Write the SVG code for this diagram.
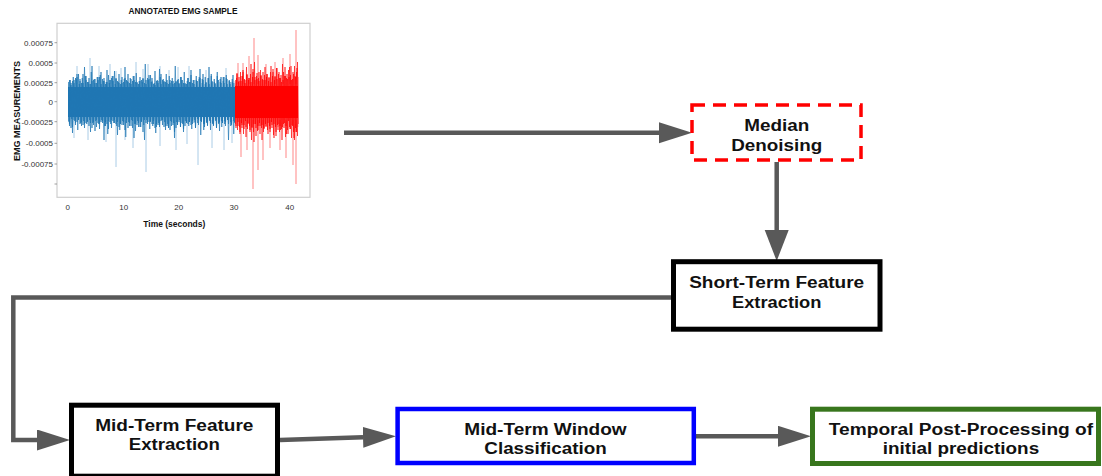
<svg xmlns="http://www.w3.org/2000/svg" xmlns:xlink="http://www.w3.org/1999/xlink" width="1102" height="476" viewBox="0 0 1102 476">
  <style>
    .lbl { font-family: "Liberation Sans", Arial, sans-serif; font-weight: bold; font-size: 16px; fill: #111; text-anchor: middle; }
    .tick { font-family: "Liberation Sans", Arial, sans-serif; font-size: 8px; fill: #333; }
    .axis { font-family: "Liberation Sans", Arial, sans-serif; font-weight: bold; fill: #111; text-anchor: middle; }
    .conn { fill: none; stroke: #595959; stroke-width: 4.5; stroke-linejoin: miter; }
    .box { fill: #fff; }
  </style>
  <defs>
    <marker id="head" markerUnits="userSpaceOnUse" markerWidth="34" markerHeight="22" refX="0" refY="10.5" orient="auto">
      <path d="M0,0 L33,10.5 L0,21 Z" fill="#595959"/>
    </marker>
    <marker id="headV" markerUnits="userSpaceOnUse" markerWidth="32" markerHeight="25" refX="0" refY="12" orient="auto">
      <path d="M0,0 L31,12 L0,24 Z" fill="#595959"/>
    </marker>
    <clipPath id="clipBlue"><rect x="68" y="20" width="167" height="180"/></clipPath>
    <clipPath id="clipRed"><rect x="235" y="20" width="63.5" height="180"/></clipPath>
    <!-- raw trace of the resting segment -->
    <polyline id="sigBlue" fill="none" stroke="#1f77b4" stroke-width="0.8" stroke-linejoin="round" points="68,82 69.5,124 71,85 72.5,127 74,83 75.5,125 77,74 78.5,120 80,81 81.5,126 83,83 84.5,128 86,80 87.5,122 89,84 90.5,132 92,81 93.5,125 95,83 96.5,127 98,80 99.5,129 101,84 102.5,123 104,78 105.5,122 107,70 108.5,121 110,80 111.5,128 113,81 114.5,120 116,78 117.5,122 119,74 120.5,124 122,83 123.5,125 125,67 126.5,123 128,82 129.5,126 131,84 132.5,128 134,80 135.5,131 137,83 138.5,123 140,77 141.5,122 143,79 144.5,140 146,84 147.5,124 149,75 150.5,122 152,78 153.5,121 155,71 156.5,124 158,81 159.5,127 161,84 162.5,125 164,82 165.5,130 167,80 168.5,128 170,83 171.5,126 173,81 174.5,138 176,82 177.5,125 179,84 180.5,127 182,80 183.5,132 185,83 186.5,123 188,78 189.5,122 191,75 192.5,124 194,84 195.5,128 197,81 198.5,125 200,69 201.5,121 203,80 204.5,127 206,82 207.5,126 209,84 210.5,130 212,81 213.5,125 215,83 216.5,128 218,80 219.5,122 221,77 222.5,123 224,83 225.5,126 227,84 228.5,124 230,82 231.5,125 233,83 234.5,123"/>
    <!-- raw trace of the annotated segment -->
    <polyline id="sigRed" fill="none" stroke="#ff0000" stroke-width="0.7" stroke-linejoin="round" points="235,80 236,126 237,74 238,122 239,77 240,132 241,81 242,128 243,70 244,125 245,83 246,137 247,75 248,124 249,78 250,130 251,64 252,127 253,72 254,142 255,80 256,128 257,73 258,126 259,81 260,134 261,76 262,125 263,72 264,129 265,80 266,127 267,74 268,123 269,78 270,132 271,82 272,128 273,69 274,124 275,77 276,136 277,79 278,130 279,72 280,126 281,75 282,140 283,80 284,128 285,67 286,126 287,74 288,134 289,77 290,129 291,66 292,125 293,72 294,138 295,76 296,132 297,68 298,127"/>
  </defs>
  <rect width="1102" height="476" fill="#fff"/>

  <!-- EMG sample plot -->
  <g id="emg-chart">
    <text class="axis" x="183" y="13.5" font-size="8.3">ANNOTATED EMG SAMPLE</text>
    <rect x="57" y="23.3" width="253" height="174" fill="#fff" stroke="#cfcfcf" stroke-width="1.2"/>
    <!-- y axis ticks -->
    <g class="tick" text-anchor="end">
      <text x="53" y="45.5">0.00075</text>
      <text x="53" y="65.8">0.0005</text>
      <text x="53" y="85.5">0.00025</text>
      <text x="53" y="104.5">0</text>
      <text x="53" y="124.5">-0.00025</text>
      <text x="53" y="146">-0.0005</text>
      <text x="53" y="166.8">-0.00075</text>
    </g>
    <path d="M54.5,42.7 H57 M54.5,63 H57 M54.5,82.7 H57 M54.5,101.7 H57 M54.5,121.7 H57 M54.5,143.3 H57 M54.5,164 H57 M54.5,184 H57" stroke="#888" stroke-width="0.8"/>
    <!-- x axis ticks -->
    <g class="tick" text-anchor="middle">
      <text x="67.7" y="209.5">0</text>
      <text x="123.7" y="209.5">10</text>
      <text x="178.7" y="209.5">20</text>
      <text x="234" y="209.5">30</text>
      <text x="289.7" y="209.5">40</text>
    </g>
    <text class="axis" x="174.3" y="227" font-size="9.5" textLength="62" lengthAdjust="spacingAndGlyphs">Time (seconds)</text>
    <text class="axis" transform="translate(19.5,111) rotate(-90)" font-size="9" textLength="100" lengthAdjust="spacingAndGlyphs">EMG MEASUREMENTS</text>

    <!-- resting segment (blue) -->
    <rect x="68" y="87" width="167" height="30" fill="#1f77b4"/>
    <path fill="none" stroke="#6fa8d6" stroke-width="0.9" opacity="0.65"
      d="M90,84 V58 M77,84 V66 M99,84 V66 M110,84 V64 M121,84 V68 M136,84 V62 M148,84 V64 M160,84 V66 M178,84 V67 M189,84 V66 M206,84 V70 M226,84 V68 M169,84 V70 M143,84 V69 M116,84 V71
         M74,120 V138 M88,120 V140 M106,120 V142 M116,120 V167 M133,120 V148 M146,120 V172 M160,120 V146 M176,120 V150 M198,120 V165 M212,120 V148 M224,120 V150 M232,120 V143 M125,120 V140 M187,120 V144"/>
    <g clip-path="url(#clipBlue)" stroke-opacity="0.85">
      <use xlink:href="#sigBlue"/>
      <use xlink:href="#sigBlue" transform="translate(0.75,204) scale(1,-1)"/>
      <use xlink:href="#sigBlue" transform="translate(-40.5,0)"/>
      <use xlink:href="#sigBlue" transform="translate(126.75,204) scale(1,-1)"/>
      <use xlink:href="#sigBlue" transform="translate(-82.5,204) scale(1,-1)"/>
      <use xlink:href="#sigBlue" transform="translate(84,0)"/>
    </g>

    <!-- annotated segment (red) -->
    <rect x="235" y="86" width="63" height="32" fill="#ff0000"/>
    <path fill="none" stroke="#ff4040" stroke-width="0.9" opacity="0.7"
      d="M254,84 V38 M296,84 V30 M243,84 V63 M258,84 V55 M283,84 V58 M290,84 V54 M238,84 V63 M275,84 V62 M249,84 V56 M266,84 V64
         M253,120 V189 M296,120 V184 M241,120 V157 M258,120 V170 M263,120 V160 M280,120 V150 M286,120 V158 M293,120 V165 M270,120 V148 M247,120 V150"/>
    <g clip-path="url(#clipRed)" stroke-opacity="0.8">
      <use xlink:href="#sigRed"/>
      <use xlink:href="#sigRed" transform="translate(0.5,204) scale(1,-1)"/>
      <use xlink:href="#sigRed" transform="translate(-20,0)"/>
      <use xlink:href="#sigRed" transform="translate(43.5,204) scale(1,-1)"/>
    </g>
  </g>

  <!-- connectors -->
  <g id="connectors">
    <path class="conn" d="M344,132.7 H659" marker-end="url(#head)"/>
    <path class="conn" d="M776.7,162 V230" marker-end="url(#headV)"/>
    <path class="conn" d="M671,297.5 H13.3 V440 H37" marker-end="url(#head)"/>
    <path class="conn" d="M280,440 L363,437.3" marker-end="url(#head)"/>
    <path class="conn" d="M696,436.3 H778" marker-end="url(#head)"/>
  </g>

  <g id="median-denoising">
    <rect class="box" x="692" y="105" width="169" height="55" stroke="#ff0000" stroke-width="3.5" stroke-dasharray="13 8"/>
    <text class="lbl" x="776.7" y="130.7" textLength="65" lengthAdjust="spacingAndGlyphs">Median</text>
    <text class="lbl" x="776.7" y="151" textLength="91" lengthAdjust="spacingAndGlyphs">Denoising</text>
  </g>

  <g id="short-term-features">
    <rect class="box" x="673.5" y="261.7" width="206.5" height="67.5" stroke="#000" stroke-width="5"/>
    <text class="lbl" x="776.7" y="288.3" textLength="175" lengthAdjust="spacingAndGlyphs">Short-Term Feature</text>
    <text class="lbl" x="776.7" y="307.5" textLength="89.5" lengthAdjust="spacingAndGlyphs">Extraction</text>
  </g>

  <g id="mid-term-features">
    <rect class="box" x="71.5" y="405.2" width="206" height="71" stroke="#000" stroke-width="5"/>
    <text class="lbl" x="174.3" y="430.5" textLength="158.3" lengthAdjust="spacingAndGlyphs">Mid-Term Feature</text>
    <text class="lbl" x="174.3" y="450" textLength="91" lengthAdjust="spacingAndGlyphs">Extraction</text>
  </g>

  <g id="window-classification">
    <rect class="box" x="397.6" y="409" width="296.2" height="54" stroke="#0000ff" stroke-width="4.5"/>
    <text class="lbl" x="545.5" y="435" textLength="162.3" lengthAdjust="spacingAndGlyphs">Mid-Term Window</text>
    <text class="lbl" x="545.5" y="454.3" textLength="122.3" lengthAdjust="spacingAndGlyphs">Classification</text>
  </g>

  <g id="temporal-post-processing">
    <rect class="box" x="812.5" y="409.2" width="286" height="54.3" stroke="#38761d" stroke-width="5"/>
    <text class="lbl" x="961" y="434.5" textLength="264.3" lengthAdjust="spacingAndGlyphs">Temporal Post-Processing of</text>
    <text class="lbl" x="961" y="454" textLength="156.3" lengthAdjust="spacingAndGlyphs">initial predictions</text>
  </g>
</svg>
